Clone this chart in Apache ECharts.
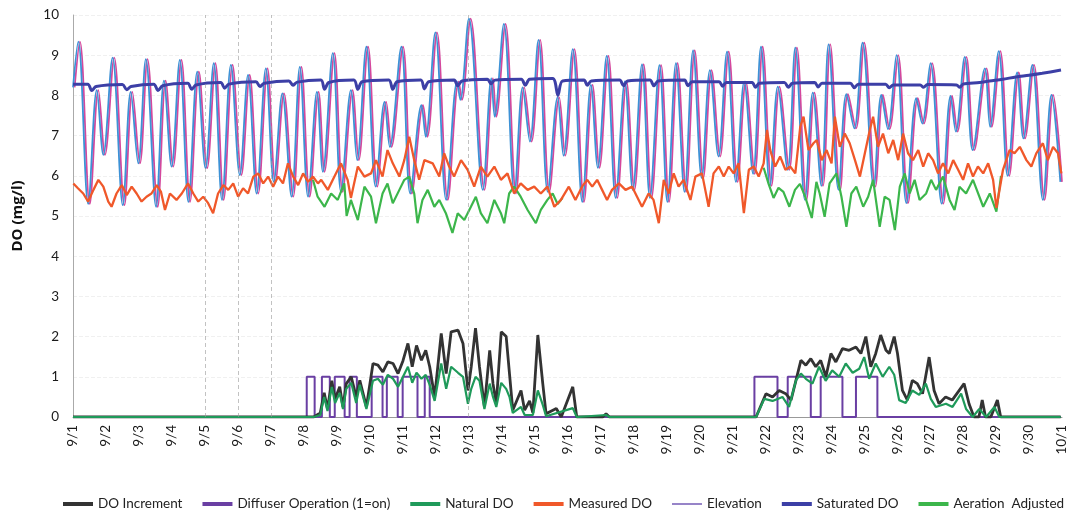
<!DOCTYPE html>
<html>
<head>
<meta charset="utf-8">
<script src="https://cdn.jsdelivr.net/npm/echarts@6.0.0/dist/echarts.min.js"></script>
<style>
  html, body { margin: 0; padding: 0; background: #fff; }
  #chart { width: 1071px; height: 520px; }
</style>
</head>
<body>
<div id="chart"></div>
<script>
// x = days since 9/1
const dayLabels = ["9/1","9/2","9/3","9/4","9/5","9/6","9/7","9/8","9/9","9/10","9/11","9/12","9/13","9/14","9/15",
  "9/16","9/17","9/18","9/19","9/20","9/21","9/22","9/23","9/24","9/25","9/26","9/27","9/28","9/29","9/30","10/1"];

// faint vertical marks that show on the scanned sheet
const sheetLines = [4, 5, 6, 12];

// tidal swing line
const elevation = [
  [0.00,8.20],[0.16,9.34],[0.46,5.30],[0.72,8.13],[0.92,6.52],[1.20,8.94],[1.51,5.27],[1.75,8.09],[1.98,6.31],
  [2.21,8.90],[2.52,5.23],[2.76,8.37],[2.99,6.23],[3.24,8.88],[3.50,5.35],[3.77,8.59],[4.02,6.19],[4.27,8.80],
  [4.52,5.40],[4.79,8.76],[5.06,6.02],[5.31,8.51],[5.57,5.56],[5.85,8.67],[6.09,5.85],[6.35,8.05],[6.63,5.48],
  [6.88,8.71],[7.13,5.48],[7.40,8.09],[7.58,6.10],[7.88,9.05],[8.13,5.60],[8.43,8.13],[8.62,6.39],[8.90,9.21],
  [9.18,5.73],[9.45,7.84],[9.61,6.72],[9.96,9.21],[10.23,5.56],[10.57,7.76],[10.70,6.97],[10.99,9.57],[11.32,5.40],
  [11.65,8.34],[11.75,7.89],[12.01,9.91],[12.43,5.65],[12.69,8.42],[12.79,7.47],[13.07,9.78],[13.39,5.56],
  [13.64,8.20],[13.86,6.85],[14.12,9.38],[14.40,5.60],[14.70,7.95],[14.88,6.50],[15.16,9.15],[15.45,5.35],
  [15.71,8.26],[15.92,6.20],[16.19,8.98],[16.46,5.45],[16.74,8.35],[16.98,5.65],[17.26,8.77],[17.50,5.45],
  [17.79,8.75],[18.03,5.35],[18.29,8.80],[18.55,5.60],[18.81,9.12],[19.07,5.95],[19.32,8.63],[19.58,6.48],
  [19.84,9.09],[20.11,5.85],[20.36,8.34],[20.63,6.05],[20.87,9.21],[21.14,5.75],[21.38,8.22],[21.68,6.15],
  [21.91,9.19],[22.20,5.40],[22.44,8.07],[22.70,5.75],[22.92,9.27],[23.22,5.65],[23.46,8.03],[23.70,7.18],
  [23.95,9.31],[24.29,5.73],[24.52,8.01],[24.72,7.16],[24.98,9.00],[25.28,5.32],[25.58,7.93],[25.76,7.30],
  [26.01,8.80],[26.35,5.31],[26.62,7.99],[26.78,7.10],[27.05,8.96],[27.29,6.64],[27.66,8.67],[27.82,7.22],
  [28.08,9.10],[28.35,6.00],[28.64,8.57],[28.83,6.93],[29.10,8.76],[29.42,5.40],[29.68,8.01],[29.95,5.85]
];

const saturatedDO = [
  [0.00,8.28],[0.45,8.28],[0.57,8.12],[0.70,8.22],[1.50,8.27],[1.63,8.14],[1.76,8.22],[2.45,8.28],[2.58,8.12],
  [2.72,8.24],[3.48,8.30],[3.60,8.15],[3.73,8.26],[4.48,8.32],[4.60,8.18],[4.73,8.28],[5.55,8.34],[5.67,8.22],
  [5.80,8.30],[6.55,8.36],[6.67,8.25],[6.80,8.33],[7.52,8.38],[7.63,8.15],[7.76,8.32],[8.52,8.38],[8.64,8.15],
  [8.77,8.34],[9.58,8.38],[9.70,8.15],[9.83,8.34],[10.55,8.38],[10.66,8.16],[10.79,8.34],[11.56,8.38],[11.67,8.24],
  [11.80,8.36],[12.57,8.40],[12.68,8.29],[12.80,8.38],[13.60,8.40],[13.72,8.25],[13.85,8.40],[14.55,8.42],
  [14.71,8.00],[14.85,8.36],[15.50,8.38],[15.60,8.25],[15.72,8.36],[16.58,8.38],[16.70,8.24],[16.82,8.36],
  [17.50,8.38],[17.62,8.24],[17.75,8.36],[18.55,8.38],[18.65,8.24],[18.78,8.34],[19.60,8.34],[19.70,8.23],
  [19.82,8.32],[20.60,8.32],[20.70,8.20],[20.82,8.30],[21.58,8.32],[21.70,8.20],[21.82,8.30],[22.50,8.32],
  [22.60,8.21],[22.72,8.30],[23.58,8.30],[23.70,8.19],[23.82,8.28],[24.65,8.28],[24.76,8.19],[24.88,8.26],
  [25.70,8.26],[25.80,8.20],[25.92,8.27],[26.80,8.26],[26.90,8.20],[27.00,8.28],[27.50,8.32],[27.80,8.36],
  [28.20,8.40],[28.60,8.46],[29.00,8.50],[29.40,8.55],[29.97,8.63]
];

const measuredDO = [
  [0.01,5.81],[0.15,5.69],[0.31,5.56],[0.46,5.36],[0.62,5.65],[0.77,5.90],[0.92,5.73],[1.07,5.36],[1.17,5.23],
  [1.32,5.56],[1.48,5.77],[1.63,5.52],[1.78,5.73],[1.93,5.56],[2.08,5.36],[2.23,5.48],[2.38,5.56],[2.54,5.77],
  [2.67,5.60],[2.79,5.15],[2.94,5.56],[3.14,5.40],[3.30,5.56],[3.49,5.81],[3.65,5.56],[3.80,5.36],[3.95,5.48],
  [4.10,5.32],[4.25,5.07],[4.40,5.56],[4.56,5.77],[4.71,5.65],[4.86,5.81],[5.01,5.48],[5.16,5.69],[5.31,5.56],
  [5.47,5.98],[5.62,6.06],[5.77,5.81],[5.92,5.98],[6.07,5.73],[6.22,5.98],[6.37,5.81],[6.52,6.31],[6.68,5.98],
  [6.83,5.77],[6.98,6.06],[7.13,5.85],[7.28,5.98],[7.43,5.81],[7.53,5.90],[7.73,5.65],[7.93,5.98],[8.13,6.31],
  [8.33,5.90],[8.43,5.45],[8.64,6.23],[8.84,5.98],[9.04,6.06],[9.19,6.39],[9.39,5.98],[9.54,6.64],[9.70,6.31],
  [9.90,5.98],[10.05,6.39],[10.20,6.97],[10.35,6.39],[10.50,5.90],[10.66,6.39],[10.91,6.31],[11.11,5.98],
  [11.26,6.56],[11.41,6.23],[11.56,5.98],[11.77,6.39],[11.97,6.15],[12.17,5.73],[12.37,6.23],[12.57,5.98],
  [12.78,6.23],[12.98,5.90],[13.18,6.06],[13.38,5.56],[13.58,5.81],[13.79,5.65],[13.99,5.73],[14.19,5.56],
  [14.39,5.73],[14.60,5.23],[14.80,5.40],[15.04,5.73],[15.24,5.40],[15.44,5.73],[15.60,5.90],[15.75,5.73],
  [15.90,5.90],[16.05,5.65],[16.20,5.40],[16.35,5.65],[16.56,5.81],[16.76,5.65],[16.96,5.73],[17.11,5.48],
  [17.26,5.23],[17.46,5.56],[17.61,5.40],[17.77,4.82],[17.92,5.90],[18.07,5.56],[18.22,6.06],[18.37,5.73],
  [18.52,5.90],[18.73,5.40],[18.88,5.98],[19.08,6.06],[19.28,5.23],[19.43,6.06],[19.59,6.23],[19.74,5.98],
  [19.89,6.23],[20.04,6.06],[20.19,6.31],[20.35,5.07],[20.50,6.15],[20.65,6.23],[20.80,5.98],[20.95,6.31],
  [21.05,7.14],[21.15,6.64],[21.30,6.23],[21.45,6.48],[21.61,6.15],[21.76,6.23],[21.91,6.06],[22.06,7.22],
  [22.16,7.47],[22.31,6.64],[22.46,6.81],[22.56,6.89],[22.71,6.39],[22.86,6.64],[23.01,6.31],[23.11,7.47],
  [23.26,6.72],[23.41,7.05],[23.56,6.81],[23.72,6.39],[23.87,5.98],[24.02,6.56],[24.17,7.14],[24.27,7.47],
  [24.42,6.72],[24.57,7.05],[24.73,6.56],[24.88,6.89],[25.03,6.39],[25.18,7.05],[25.33,6.56],[25.48,6.39],
  [25.64,6.64],[25.79,6.23],[25.94,6.56],[26.09,6.39],[26.24,6.06],[26.39,6.31],[26.55,6.06],[26.70,6.39],
  [26.85,6.15],[27.00,5.90],[27.15,6.31],[27.30,5.98],[27.45,6.23],[27.61,6.06],[27.76,6.31],[27.91,5.90],
  [28.01,5.20],[28.21,6.15],[28.41,6.64],[28.56,6.56],[28.72,6.72],[28.92,6.39],[29.07,6.23],[29.22,6.56],
  [29.42,6.81],[29.57,6.39],[29.73,6.72],[29.88,6.56],[29.98,6.06]
];

// upper green line, only where it separates from measured DO
const adjustedDO = [
  [7.28,5.90],[7.42,5.48],[7.63,5.23],[7.83,5.56],[8.03,5.40],[8.23,5.81],[8.30,5.00],[8.43,5.40],[8.64,4.90],
  [8.84,5.73],[9.04,5.48],[9.19,4.82],[9.39,5.56],[9.54,5.81],[9.70,5.32],[9.90,5.65],[10.05,5.90],[10.20,5.98],
  [10.35,5.56],[10.45,4.82],[10.60,5.40],[10.76,5.65],[10.96,5.23],[11.11,5.40],[11.31,5.07],[11.51,4.58],
  [11.67,5.07],[11.87,4.90],[12.07,5.23],[12.22,5.48],[12.37,5.07],[12.57,4.82],[12.78,5.40],[12.98,5.07],
  [13.08,4.82],[13.23,5.56],[13.38,5.73],[13.58,5.48],[13.79,5.15],[14.04,4.82],[14.19,5.15],[14.39,5.40],
  [14.55,5.56],[14.70,5.30],[14.85,5.45],[14.90,"-"],
  [20.95,6.20],[21.10,5.80],[21.25,5.45],[21.40,5.70],[21.55,5.60],[21.73,5.23],[21.90,5.65],[22.05,5.80],
  [22.21,5.48],[22.41,4.95],[22.55,5.85],[22.65,5.56],[22.80,4.98],[22.95,5.81],[23.16,6.06],[23.31,5.48],
  [23.46,4.73],[23.61,5.56],[23.76,5.73],[23.97,5.23],[24.12,5.48],[24.27,5.90],[24.47,4.73],[24.62,5.48],
  [24.77,5.40],[24.93,4.65],[25.08,5.73],[25.23,6.06],[25.38,5.56],[25.53,5.90],[25.68,5.40],[25.88,5.56],
  [26.03,5.90],[26.18,5.65],[26.39,5.98],[26.59,5.40],[26.74,5.15],[26.89,5.73],[27.09,5.56],[27.30,5.90],
  [27.61,5.23],[27.81,5.56],[28.01,5.11],[28.15,6.00]
];

const doIncrement = [
  [0,0],[7.30,0],[7.50,0.10],[7.62,0.60],[7.72,0.20],[7.85,0.90],[7.95,0.45],[8.09,0.75],[8.19,0.25],[8.29,0.83],
  [8.44,1.00],[8.59,0.50],[8.70,0.91],[8.90,0.25],[9.10,1.33],[9.25,1.29],[9.40,1.12],[9.55,1.37],[9.71,1.33],
  [9.86,1.08],[10.01,1.40],[10.16,1.83],[10.29,1.25],[10.42,1.78],[10.57,1.41],[10.70,1.66],[10.82,1.25],
  [10.97,0.50],[11.17,2.08],[11.32,1.08],[11.47,2.12],[11.68,2.16],[11.83,1.83],[11.98,0.66],[12.08,1.25],
  [12.21,2.21],[12.33,1.25],[12.48,0.25],[12.64,1.66],[12.74,0.83],[12.84,0.33],[12.99,2.12],[13.14,2.00],
  [13.24,1.08],[13.34,0.17],[13.59,0.66],[13.70,0.17],[13.85,0.40],[13.95,0.10],[14.10,2.04],[14.25,0.83],
  [14.35,0.08],[14.66,0.21],[14.81,0],[15.16,0.75],[15.28,0],[16.07,0],[16.17,0.08],[16.27,0],
  [20.72,0],[21.02,0.58],[21.22,0.50],[21.42,0.66],[21.62,0.58],[21.78,0.42],[21.93,0.91],[22.08,1.41],
  [22.23,1.29],[22.38,1.45],[22.53,1.25],[22.68,1.41],[22.84,1.00],[22.99,1.58],[23.14,1.37],[23.34,1.70],
  [23.54,1.66],[23.75,1.74],[23.90,1.58],[24.05,2.00],[24.20,1.25],[24.35,1.58],[24.50,2.04],[24.66,1.66],
  [24.76,1.58],[24.91,2.00],[25.01,1.58],[25.16,0.66],[25.31,0.42],[25.46,0.91],[25.61,0.83],[25.77,0.58],
  [25.97,1.49],[26.12,0.66],[26.27,0.33],[26.47,0.50],[26.67,0.42],[27.03,0.83],[27.18,0.33],[27.33,0],
  [27.48,0],[27.58,0.42],[27.68,0],[27.84,0],[28.04,0.42],[28.14,0],[29.96,0]
];

// lower green line
const naturalDO = [
  [0,0],[7.30,0],[7.50,0.05],[7.62,0.50],[7.72,0.15],[7.85,0.75],[7.95,0.35],[8.09,0.60],[8.19,0.20],[8.29,0.70],
  [8.44,0.85],[8.59,0.35],[8.70,0.80],[8.90,0.20],[9.10,0.90],[9.25,0.95],[9.40,0.80],[9.55,1.05],[9.71,0.95],
  [9.86,0.75],[10.01,1.00],[10.16,1.25],[10.29,0.85],[10.42,1.10],[10.57,0.95],[10.70,1.05],[10.82,0.80],
  [10.97,0.40],[11.17,1.33],[11.32,0.70],[11.47,1.25],[11.68,1.10],[11.83,1.00],[11.98,0.33],[12.08,0.70],
  [12.21,1.00],[12.33,0.90],[12.48,0.20],[12.64,0.83],[12.74,0.50],[12.84,0.25],[12.99,0.85],[13.14,0.70],
  [13.24,0.50],[13.34,0.10],[13.59,0.25],[13.70,0.05],[13.95,0.05],[14.10,0.66],[14.25,0.30],[14.35,0.02],
  [15.16,0.22],[15.28,0],[16.17,0.05],[16.27,0],[20.72,0],[20.97,0.45],[21.22,0.40],[21.52,0.50],[21.72,0.25],
  [21.93,0.91],[22.08,1.08],[22.23,0.95],[22.43,0.83],[22.63,1.25],[22.83,0.90],[23.03,1.16],[23.24,1.00],
  [23.44,1.33],[23.65,1.10],[23.85,1.20],[24.00,1.49],[24.15,0.95],[24.35,1.33],[24.56,1.00],[24.76,1.25],
  [24.91,1.05],[25.06,0.42],[25.26,0.35],[25.46,0.66],[25.67,0.55],[25.87,0.83],[26.02,0.45],[26.17,0.25],
  [26.48,0.33],[26.68,0.25],[26.94,0.58],[27.09,0.20],[27.29,0],[27.49,0.20],[27.70,0],[27.95,0.25],[28.10,0],
  [29.96,0]
];

// diffuser on/off switch points (value holds until the next point)
const diffuser = [
  [0,0],[7.09,1],[7.33,0],[7.55,1],[7.79,0],[7.94,1],[8.24,0],[8.39,1],[8.61,0],[9.06,1],[9.39,0],[9.52,1],
  [9.85,0],[10.00,1],[10.45,0],[10.67,1],[10.82,0],[20.67,1],[21.37,0],[21.68,1],[22.38,0],[22.68,1],[23.34,0],
  [23.75,1],[24.40,0],[29.96,0]
];

const FONT = "Lato, 'Open Sans', sans-serif";
const THICK = "path://M0,0H30V4H0Z";
const THIN = "path://M0,0H30V1.4H0Z";

function lineSeries(name, data, color, width, extra) {
  return Object.assign({
    name: name,
    type: "line",
    data: data,
    symbol: "none",
    itemStyle: { color: color },
    lineStyle: { color: color, width: width },
    emphasis: { disabled: true }
  }, extra || {});
}

const chart = echarts.init(document.getElementById("chart"), null, { renderer: "canvas" });
chart.setOption({
  animation: false,
  backgroundColor: "#fff",
  grid: { left: 73, right: 9, top: 15, bottom: 103 },
  xAxis: {
    type: "value",
    min: 0,
    max: 30,
    interval: 1,
    axisLine: { show: true, lineStyle: { color: "#999" } },
    axisTick: { show: false },
    splitLine: { show: false },
    axisLabel: {
      rotate: 90,
      margin: 8,
      fontSize: 13.5,
      fontFamily: FONT,
      color: "#1a1a1a",
      formatter: function (v) { return dayLabels[v]; }
    }
  },
  yAxis: {
    type: "value",
    min: 0,
    max: 10,
    interval: 1,
    name: "DO (mg/l)",
    nameLocation: "middle",
    nameRotate: 90,
    nameGap: 48,
    nameTextStyle: { fontSize: 15, fontWeight: "bold", fontFamily: "'Open Sans', sans-serif", color: "#111" },
    axisLine: { show: true, lineStyle: { color: "#aaa" } },
    axisTick: { show: false },
    axisLabel: { fontSize: 13.5, fontFamily: FONT, color: "#1a1a1a", margin: 14 },
    splitLine: { show: true, lineStyle: { color: "#f0f0f0", type: "dashed" } }
  },
  legend: {
    bottom: 4,
    left: 58,
    width: 1012,
    itemWidth: 30,
    itemHeight: 4,
    itemGap: 20,
    textStyle: { fontSize: 13.5, fontFamily: FONT, color: "#222" },
    data: [
      { name: "DO Increment", icon: THICK },
      { name: "Diffuser Operation (1=on)", icon: THICK },
      { name: "Natural DO", icon: THICK },
      { name: "Measured DO", icon: THICK },
      { name: "Elevation", icon: THIN },
      { name: "Saturated DO", icon: THICK },
      { name: "Aeration  Adjusted", icon: THICK }
    ]
  },
  series: [
    lineSeries("Elevation", elevation, "#6b4fb0", 1.8, {
      smooth: 0.35,
      lineStyle: { color: "#3d92d6", width: 1.8, shadowColor: "#d4489d", shadowOffsetX: 1.6, shadowBlur: 0 },
      markLine: {
        silent: true,
        symbol: "none",
        label: { show: false },
        lineStyle: { color: "#9a9a9a", type: [4, 3], width: 1, opacity: 0.6, shadowColor: "transparent" },
        data: sheetLines.map(function (d) { return { xAxis: d }; })
      }
    }),
    lineSeries("Aeration  Adjusted", adjustedDO, "#3cb64b", 2.2, { connectNulls: false }),
    lineSeries("Measured DO", measuredDO, "#f0582a", 2.3),
    lineSeries("Saturated DO", saturatedDO, "#3c3fa6", 3, { smooth: 0.3 }),
    lineSeries("Diffuser Operation (1=on)", diffuser, "#6a3fa3", 2, { step: "end" }),
    lineSeries("DO Increment", doIncrement, "#333333", 2.8),
    lineSeries("Natural DO", naturalDO, "#1f9a5a", 2.2)
  ]
});
</script>
</body>
</html>
